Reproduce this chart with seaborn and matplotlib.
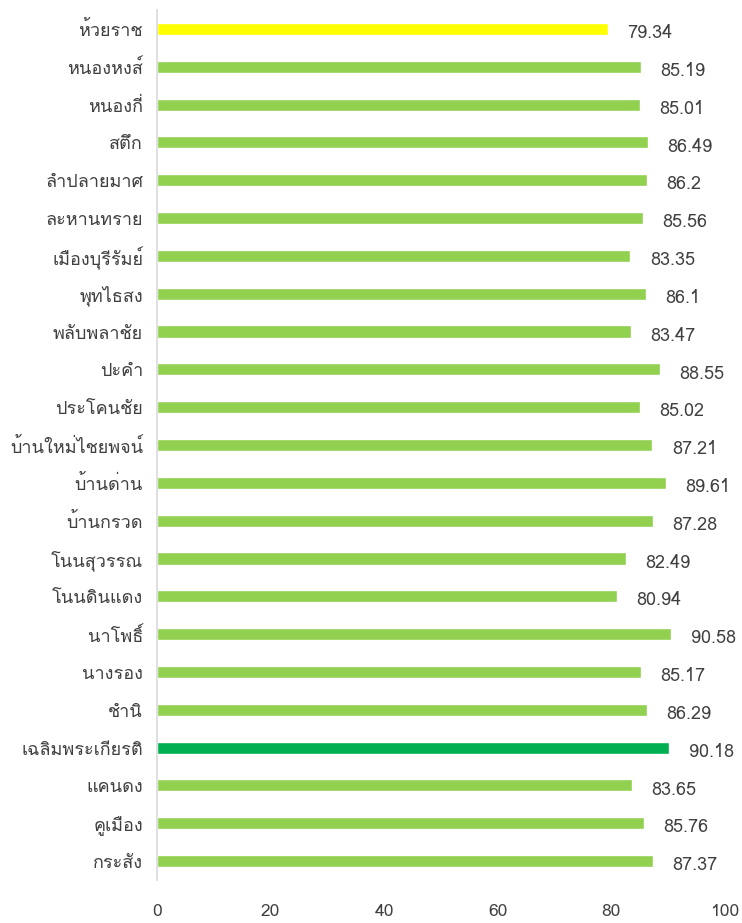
import matplotlib
matplotlib.use('Agg')
from matplotlib import pyplot as plt, font_manager
from fontTools.ttLib import TTFont
import seaborn as sns
import pandas as pd

districts = ['ห้วยราช', 'หนองหงส์', 'หนองกี่', 'สตึก', 'ลำปลายมาศ', 'ละหานทราย',
             'เมืองบุรีรัมย์', 'พุทไธสง', 'พลับพลาชัย', 'ปะคำ', 'ประโคนชัย',
             'บ้านใหม่ไชยพจน์', 'บ้านด่าน', 'บ้านกรวด', 'โนนสุวรรณ', 'โนนดินแดง',
             'นาโพธิ์', 'นางรอง', 'ชำนิ', 'เฉลิมพระเกียรติ', 'แคนดง', 'คูเมือง', 'กระสัง']
scores = [79.34, 85.19, 85.01, 86.49, 86.2, 85.56, 83.35, 86.1, 83.47, 88.55, 85.02,
          87.21, 89.61, 87.28, 82.49, 80.94, 90.58, 85.17, 86.29, 90.18, 83.65, 85.76, 87.37]
x_ticks = [0, 20, 40, 60, 80, 100]

# highlight lowest (yellow) and the reference district (dark green)
bar_colors = {d: '#92D050' for d in districts}
bar_colors['ห้วยราช'] = '#FFFF00'
bar_colors['เฉลิมพระเกียรติ'] = '#00B050'


def find_thai_family():
    # look for any installed font that has Thai glyphs
    for f in font_manager.fontManager.ttflist:
        try:
            cmap = TTFont(f.fname, fontNumber=0, lazy=True).getBestCmap()
        except Exception:
            continue
        if cmap and 0x0E2B in cmap and 0x0E49 in cmap:
            return f.name
    return None


sns.set_style('white')
thai_family = find_thai_family()
families = ([thai_family] if thai_family else []) + ['DejaVu Sans']
plt.rcParams['font.family'] = families

df = pd.DataFrame({'district': districts, 'score': scores})

fig, ax = plt.subplots(figsize=(7.42, 9.23), dpi=100)
fig.subplots_adjust(left=157 / 742, right=725 / 742, top=1 - 10 / 923, bottom=1 - 880 / 923)

sns.barplot(data=df, x='score', y='district', hue='district', palette=bar_colors,
            orient='h', width=0.32, legend=False, ax=ax, saturation=1)

for i, v in enumerate(scores):
    ax.annotate(f'{v:g}', (v, i), xytext=(14, -3), textcoords='offset points',
                va='center', ha='left', fontsize=13, color='#404040')

ax.set_xlim(0, 100)
ax.set_xticks(x_ticks)
ax.set_ylim(len(districts) - 0.5, -0.5)
ax.set_xlabel('')
ax.set_ylabel('')
ax.tick_params(axis='x', labelsize=12.5, colors='#404040', length=0, pad=17)
ax.tick_params(axis='y', labelsize=13, colors='#404040', length=0, pad=10)
for side in ['top', 'right', 'bottom']:
    ax.spines[side].set_visible(False)
ax.spines['left'].set_color('#D9D9D9')
ax.spines['left'].set_linewidth(1.2)

plt.savefig('out.png', dpi=100)
